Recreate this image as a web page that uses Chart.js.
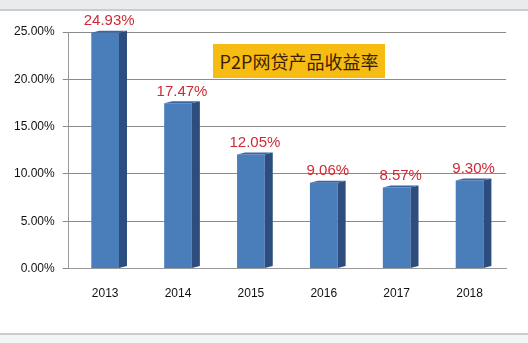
<!DOCTYPE html>
<html>
<head>
<meta charset="utf-8">
<script src="https://cdn.jsdelivr.net/npm/chart.js"></script>
<style>
  html, body { margin: 0; padding: 0; background: #fff; }
  #wrap { position: relative; width: 528px; height: 343px; overflow: hidden; }
  #topbar { position: absolute; left: 0; top: 0; width: 528px; height: 9px; background: #e9ecef; border-bottom: 2px solid #c8cdd2; }
  #botbar { position: absolute; left: 0; top: 333px; width: 528px; height: 10px; background: #f3f4f6; border-top: 2px solid #c8cdd2; }
  #title { position: absolute; left: 213px; top: 44px; width: 172px; height: 34px; background: #f6bc12;
           font-family: "Noto Sans CJK SC", sans-serif; font-size: 18px; color: #3b1d05;
           line-height: 34px; text-align: center; }
  canvas { position: absolute; left: 0; top: 0; }
</style>
</head>
<body>
<div id="wrap">
  <div id="topbar"></div>
  <div id="botbar"></div>
  <canvas id="myChart" width="528" height="343"></canvas>
  <div id="title">P2P网贷产品收益率</div>
</div>
<script>
var years = ["2013", "2014", "2015", "2016", "2017", "2018"];
var rates = [24.93, 17.47, 12.05, 9.06, 8.57, 9.30];
var rate_labels = ["24.93%", "17.47%", "12.05%", "9.06%", "8.57%", "9.30%"];

// fake 3d side + top faces, plus the red value labels
var barExtras = {
	id: 'barExtras',
	afterDatasetsDraw: function(chart) {
		var ctx = chart.ctx;
		var meta = chart.getDatasetMeta(0);
		var d = 8, up = 2;
		meta.data.forEach(function(bar, i) {
			var half = bar.width / 2;
			var left = bar.x - half, right = bar.x + half;
			ctx.save();
			// side
			ctx.fillStyle = '#2c4d7e';
			ctx.beginPath();
			ctx.moveTo(right, bar.y);
			ctx.lineTo(right + d, bar.y - up);
			ctx.lineTo(right + d, bar.base - up);
			ctx.lineTo(right, bar.base);
			ctx.closePath();
			ctx.fill();
			// top
			ctx.fillStyle = '#3a65a3';
			ctx.beginPath();
			ctx.moveTo(left, bar.y);
			ctx.lineTo(left + d, bar.y - up);
			ctx.lineTo(right + d, bar.y - up);
			ctx.lineTo(right, bar.y);
			ctx.closePath();
			ctx.fill();
			// label
			ctx.fillStyle = '#cc2b36';
			ctx.font = '15px "Liberation Sans", sans-serif';
			ctx.textAlign = 'center';
			ctx.textBaseline = 'bottom';
			ctx.fillText(rate_labels[i], bar.x + 4, bar.y - 4);
			ctx.restore();
		});
	}
};

var ctx = document.getElementById('myChart').getContext('2d');
var chart = new Chart(ctx, {
	type: 'bar',
	data: {
		labels: years,
		datasets: [{
			data: rates,
			backgroundColor: function(c) {
				var el = c.element;
				if (!el || !isFinite(el.x) || !isFinite(el.width)) return '#4a7ebb';
				var g = c.chart.ctx.createLinearGradient(el.x - el.width / 2, 0, el.x + el.width / 2, 0);
				g.addColorStop(0, '#4473b6');
				g.addColorStop(0.5, '#558bcf');
				g.addColorStop(1, '#4677bb');
				return g;
			},
			barPercentage: 0.38,
			categoryPercentage: 1.0
		}]
	},
	options: {
		responsive: false,
		animation: false,
		layout: { padding: { left: 6, right: 22, top: 32, bottom: 32 } },
		plugins: { legend: { display: false }, tooltip: { enabled: false } },
		scales: {
			x: {
				grid: { display: false },
				border: { color: '#9a9a9a' },
				ticks: { color: '#111', padding: 10, font: { family: 'Liberation Sans', size: 12 } }
			},
			y: {
				min: 0, max: 25,
				ticks: {
					stepSize: 5, color: '#111', padding: 8,
					font: { family: 'Liberation Sans', size: 12 },
					callback: function(v) { return v.toFixed(2) + '%'; }
				},
				grid: { color: '#8a8a8a', lineWidth: 1, tickLength: 6 },
				border: { color: '#9a9a9a' }
			}
		}
	},
	plugins: [barExtras]
});
</script>
</body>
</html>
